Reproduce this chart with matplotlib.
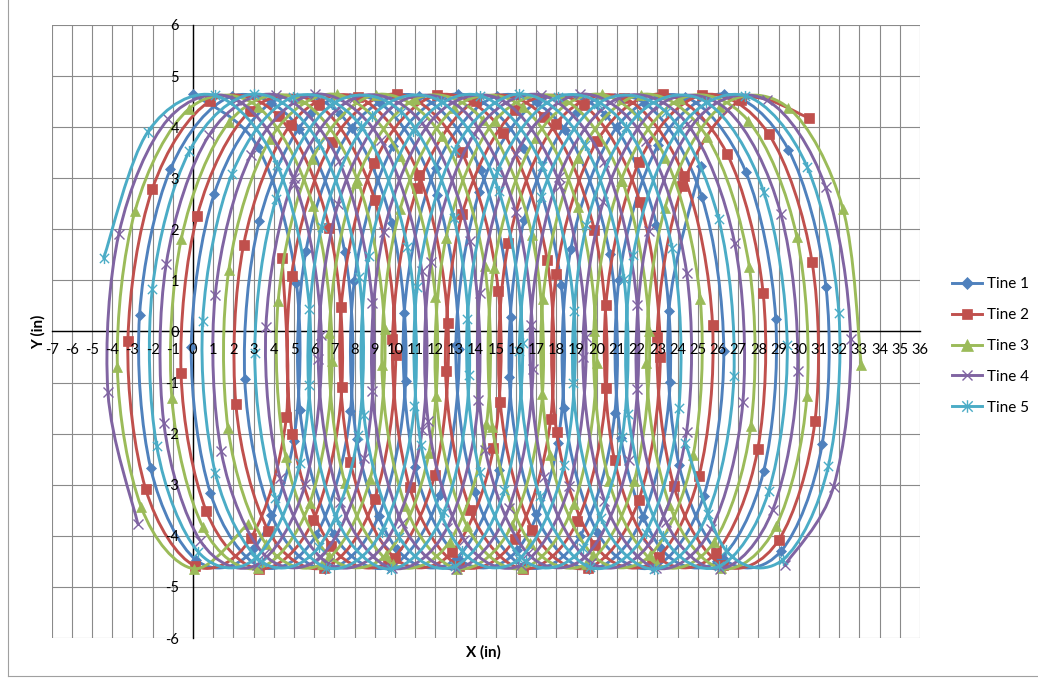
import numpy as np
import matplotlib
matplotlib.use("Agg")
import matplotlib.pyplot as plt
from matplotlib.path import Path
from matplotlib.patches import PathPatch
from matplotlib.lines import Line2D

plt.rcParams["font.family"] = ["Lato", "DejaVu Sans"]
plt.rcParams["axes.unicode_minus"] = False

# Rotor / tine kinematics
tine_names = ["Tine 1", "Tine 2", "Tine 3", "Tine 4", "Tine 5"]
start_angles_deg = [90, 18, -54, -126, -198]   # tine position at t = 0
tine_radius = 4.65          # in
advance_per_rev = 2.62      # in of forward travel per rotor revolution
step_deg = 39.14            # rotor rotation between samples (clockwise)
n_steps = 100

tine_colors = ["#4F81BD", "#C0504D", "#9BBB59", "#8064A2", "#4BACC6"]

x_ticks = list(range(-7, 37))
y_ticks = list(range(-6, 7))

# Excel-style "star" marker: an X with a vertical bar
star_path = Path(
    [(-0.5, -0.5), (0.5, 0.5), (-0.5, 0.5), (0.5, -0.5), (0, -0.6), (0, 0.6)],
    [Path.MOVETO, Path.LINETO, Path.MOVETO, Path.LINETO, Path.MOVETO, Path.LINETO],
)
tine_markers = ["D", "s", "^", "x", star_path]
marker_sizes = [5.5, 6.5, 7.0, 6.5, 8.0]
marker_filled = [True, True, True, False, False]


def tine_points(start_deg):
    rot = np.arange(n_steps + 1) * step_deg
    theta = np.radians(start_deg - rot)
    centre = advance_per_rev * rot / 360.0
    return centre + tine_radius * np.cos(theta), tine_radius * np.sin(theta)


def smooth_path(x, y):
    """Cubic Bezier path through the samples (Catmull-Rom tangents)."""
    pts = np.column_stack([x, y])
    p = np.vstack([pts[0], pts, pts[-1]])
    verts = [pts[0]]
    codes = [Path.MOVETO]
    for i in range(len(pts) - 1):
        p0, p1, p2, p3 = p[i], p[i + 1], p[i + 2], p[i + 3]
        verts += [p1 + (p2 - p0) / 6.0, p2 - (p3 - p1) / 6.0, p2]
        codes += [Path.CURVE4] * 3
    return Path(verts, codes)


fig = plt.figure(figsize=(10.38, 6.78), dpi=100)
ax = fig.add_axes([51.6 / 1038, 1 - 638 / 678, (920 - 51.6) / 1038, (638 - 25) / 678])

ax.set_xlim(-7, 36)
ax.set_ylim(-6, 6)
ax.set_xticks(x_ticks)
ax.set_yticks(y_ticks)

# gridlines drawn underneath the curves; axes (with labels) drawn on top
for xv in x_ticks:
    ax.axvline(xv, color="#8a8a8a", linewidth=0.8, zorder=0.5)
for yv in y_ticks:
    ax.axhline(yv, color="#8a8a8a", linewidth=0.8, zorder=0.5)

for side in ["top", "right"]:
    ax.spines[side].set_visible(False)
ax.spines["bottom"].set_position(("data", 0))
ax.spines["left"].set_position(("data", 0))
for side in ["bottom", "left"]:
    ax.spines[side].set_color("black")
    ax.spines[side].set_linewidth(1.0)
    ax.spines[side].set_zorder(1.5)
ax.tick_params(axis="both", length=0, labelsize=10.5, colors="black")
ax.tick_params(axis="x", pad=8)
ax.tick_params(axis="y", pad=10)
ax.xaxis.set_zorder(6)
ax.yaxis.set_zorder(6)

handles = []
for name, start, color, mk, ms, filled in zip(
    tine_names, start_angles_deg, tine_colors, tine_markers, marker_sizes, marker_filled
):
    x, y = tine_points(start)
    patch = PathPatch(smooth_path(x, y), facecolor="none", edgecolor=color,
                      linewidth=2.1, capstyle="round", joinstyle="round", zorder=3)
    ax.add_patch(patch)
    ax.plot(x, y, linestyle="none", marker=mk, markersize=ms, color=color,
            markeredgewidth=1.0 if not filled else 0.5, zorder=3)
    handles.append(Line2D([], [], color=color, linewidth=2.1, marker=mk,
                          markersize=ms + 1, markeredgewidth=1.0 if not filled else 0.5,
                          label=name))

fig.text(483 / 1038, 1 - 652 / 678, "X (in)", ha="center", va="center",
         fontsize=11, fontweight="bold")
fig.text(38 / 1038, 1 - 332 / 678, "Y (in)", ha="center", va="center",
         fontsize=11, fontweight="bold", rotation=90)

fig.legend(handles=handles, loc="center left", bbox_to_anchor=(938 / 1038, 1 - 346 / 678),
           frameon=False, fontsize=11, labelspacing=1.1, handlelength=2.0,
           handletextpad=0.3)

# chart-area border
fig.add_artist(plt.Line2D([8 / 1038, 8 / 1038], [0.003, 1.0], transform=fig.transFigure,
                          color="#a0a0a0", linewidth=0.8))
fig.add_artist(plt.Line2D([8 / 1038, 1.0], [0.003, 0.003], transform=fig.transFigure,
                          color="#a0a0a0", linewidth=0.8))

fig.savefig("out.png", dpi=100)
